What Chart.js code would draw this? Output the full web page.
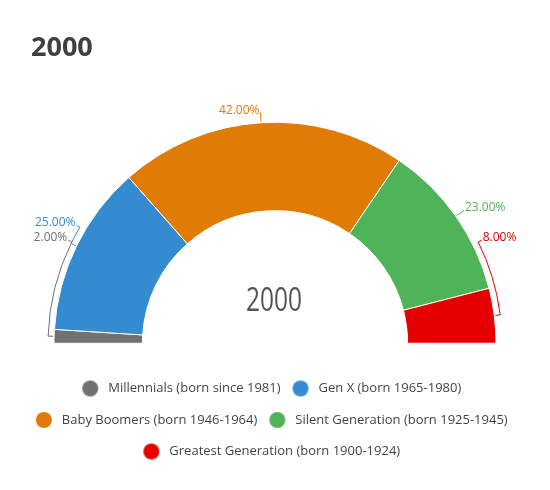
<!DOCTYPE html>
<html><head><meta charset="utf-8">
<script src="https://cdn.jsdelivr.net/npm/chart.js@4/dist/chart.umd.min.js"></script>
<style>html,body{margin:0;padding:0;background:#fff;}</style>
</head><body>
<canvas id="c" width="550" height="490"></canvas>
<script>
const titleText = '2000';
const centerText = '2000';
const categories = [
  'Millennials (born since 1981)',
  'Gen X (born 1965-1980)',
  'Baby Boomers (born 1946-1964)',
  'Silent Generation (born 1925-1945)',
  'Greatest Generation (born 1900-1924)'
];
const shares = [2, 25, 42, 23, 8];
const colors = ['#717171', '#348bcf', '#e07c06', '#4fb458', '#e50000'];

function dotImage(color) {
  const c = document.createElement('canvas');
  c.width = 28; c.height = 18;
  const g = c.getContext('2d');
  g.fillStyle = color;
  g.beginPath(); g.arc(9, 9, 8, 0, Math.PI * 2); g.fill();
  return c;
}

const titlePlugin = {
  id: 'titleText',
  afterDraw(chart) {
    const ctx = chart.ctx;
    ctx.save();
    ctx.font = 'bold 27px "Open Sans"';
    ctx.fillStyle = '#404040';
    ctx.textAlign = 'left';
    ctx.textBaseline = 'alphabetic';
    ctx.fillText(titleText, 31, 56);
    ctx.restore();
  }
};

const centerPlugin = {
  id: 'centerText',
  afterDatasetsDraw(chart) {
    const a = chart.getDatasetMeta(0).data[0];
    const ctx = chart.ctx;
    ctx.save();
    ctx.font = '32px "Open Sans"';
    ctx.fillStyle = '#555555';
    ctx.textAlign = 'center';
    ctx.textBaseline = 'alphabetic';
    const w = ctx.measureText(centerText).width;
    const sx = Math.min(1, 56 / w);
    ctx.translate(a.x - 1, a.y - 32);
    ctx.scale(sx, 1);
    ctx.fillText(centerText, 0, 0);
    ctx.restore();
  }
};

const labelPlugin = {
  id: 'sliceLabels',
  afterDatasetsDraw(chart, args, opts) {
    const meta = chart.getDatasetMeta(0);
    const arcs = meta.data;
    const ds = chart.data.datasets[0];
    const total = ds.data.reduce((s, v) => s + v, 0);
    const cx = arcs[0].x, cy = arcs[0].y, rOut = arcs[0].outerRadius;
    const rArc = rOut + 6, rLab = rOut + 10;
    const minElev = opts.minElevation * Math.PI / 180;
    const items = arcs.map((a, i) => {
      const mid = (a.startAngle + a.endAngle) / 2;
      const left = Math.cos(mid) < 0;
      let elev = Math.asin(Math.min(1, Math.max(-1, -Math.sin(mid))));
      const moved = elev < minElev;
      if (moved) elev = minElev;
      return {i, mid, left, y: cy - rLab * Math.sin(elev), moved};
    });
    [true, false].forEach(side => {
      const list = items.filter(it => it.left === side).sort((p, q) => q.y - p.y);
      for (let k = 1; k < list.length; k++) {
        if (list[k].y > list[k - 1].y - opts.spacing) { list[k].y = list[k - 1].y - opts.spacing; list[k].moved = true; }
      }
    });
    const ctx = chart.ctx;
    ctx.save();
    ctx.lineWidth = 1;
    ctx.font = '12px "Open Sans"';
    ctx.textBaseline = 'alphabetic';
    items.forEach(it => {
      const col = ds.backgroundColor[it.i];
      const dy = cy - it.y;
      const dx = Math.sqrt(Math.max(0, rLab * rLab - dy * dy));
      const ax = it.left ? cx - dx : cx + dx;
      const ay = it.y;
      const labAng = Math.atan2(ay - cy, ax - cx);
      ctx.strokeStyle = col;
      ctx.beginPath();
      ctx.moveTo(cx + (rOut + 1) * Math.cos(it.mid), cy + (rOut + 1) * Math.sin(it.mid));
      if (it.moved && Math.abs(labAng - it.mid) > 0.005) {
        ctx.lineTo(cx + rArc * Math.cos(it.mid), cy + rArc * Math.sin(it.mid));
        ctx.arc(cx, cy, rArc, it.mid, labAng, labAng < it.mid);
      }
      ctx.lineTo(ax, ay);
      ctx.stroke();
      ctx.fillStyle = col;
      ctx.textAlign = it.left ? 'right' : 'left';
      const txt = (ds.data[it.i] / total * 100).toFixed(2) + '%';
      ctx.fillText(txt, it.left ? ax - 1 : ax + 1, ay + 1);
    });
    ctx.restore();
  }
};

new Chart(document.getElementById('c'), {
  type: 'doughnut',
  data: {
    labels: categories,
    datasets: [{
      data: shares,
      backgroundColor: colors,
      borderColor: '#ffffff',
      borderWidth: 1
    }]
  },
  plugins: [titlePlugin, centerPlugin, labelPlugin],
  options: {
    responsive: false,
    animation: false,
    events: [],
    rotation: -90,
    circumference: 180,
    cutout: '60%',
    radius: 221,
    layout: { padding: { top: 102, left: 10, right: 10, bottom: 22 } },
    plugins: {
      title: { display: false },
      tooltip: { enabled: false },
      sliceLabels: { minElevation: 26.5, spacing: 15 },
      legend: {
        position: 'bottom',
        labels: {
          usePointStyle: true,
          padding: 18.5,
          color: '#444444',
          font: { family: '"Open Sans"', size: 13 },
          generateLabels(chart) {
            const base = Chart.overrides.doughnut.plugins.legend.labels.generateLabels(chart);
            base.forEach((l, i) => { l.pointStyle = dotImage(colors[i]); l.lineWidth = 0; });
            return base;
          }
        }
      }
    }
  }
});
</script>
</body></html>
